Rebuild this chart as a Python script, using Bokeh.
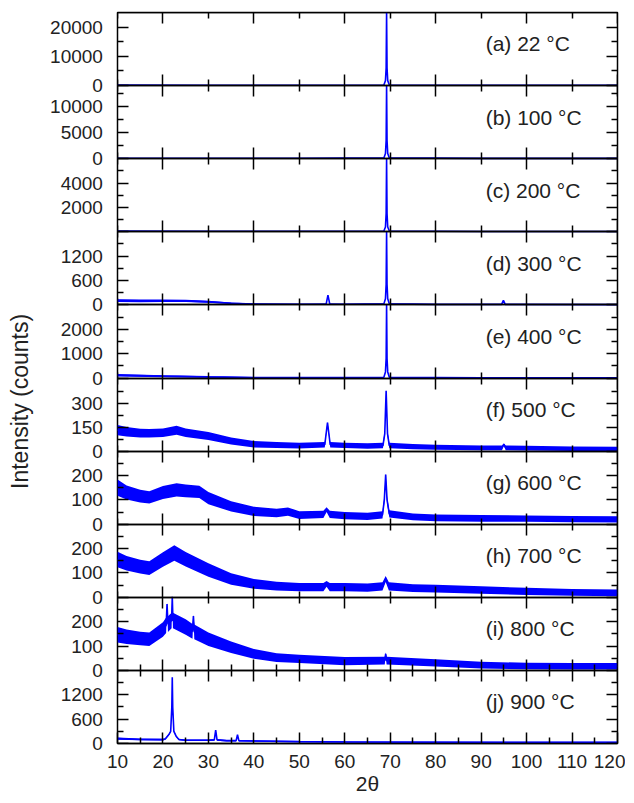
import numpy as np
from bokeh.plotting import figure
from bokeh.layouts import row
from bokeh.models import Range1d, LinearAxis, FixedTicker, Label
from bokeh.core.properties import value
from bokeh.embed import file_html
from bokeh.resources import INLINE

# ---------------- data ----------------
panel_names = ["a", "b", "c", "d", "e", "f", "g", "h", "i", "j"]
panel_labels = ["(a) 22 °C", "(b) 100 °C", "(c) 200 °C", "(d) 300 °C", "(e) 400 °C",
                "(f) 500 °C", "(g) 600 °C", "(h) 700 °C", "(i) 800 °C", "(j) 900 °C"]
panel_tops = [25000, 14000, 6000, 1800, 3000, 460, 300, 300, 300, 1800]

y_major = [[0, 10000, 20000], [0, 5000, 10000], [0, 2000, 4000], [0, 600, 1200], [0, 1000, 2000],
           [0, 150, 300], [0, 100, 200], [0, 100, 200], [0, 100, 200], [0, 600, 1200]]
y_minor = [[5000, 15000], [2500, 7500, 12500], [1000, 3000, 5000], [300, 900, 1500], [500, 1500, 2500],
           [75, 225, 375], [50, 150, 250], [50, 150, 250], [50, 150, 250], [300, 900, 1500]]
y_labelled = [[0, 10000, 20000], [0, 5000, 10000], [2000, 4000], [0, 600, 1200], [0, 1000, 2000],
              [0, 150, 300], [0, 100, 200], [0, 100, 200], [0, 100, 200], [0, 600, 1200]]

x_major_fine = [10, 20, 30, 40, 50, 60, 70, 80, 90, 100, 110, 120]
x_minor_fine = [15, 25, 35, 45, 55, 65, 75, 85, 95, 105, 115]
x_major_coarse = [20, 40, 60, 80, 100, 120]
x_minor_coarse = [10, 30, 50, 70, 90, 110]

a_x = [10, 30, 50, 68.6, 68.95, 69.1, 69.2, 69.3, 69.45, 69.8, 90, 120]
a_y = [150, 130, 110, 200, 1700, 6000, 25000, 6000, 1700, 200, 100, 100]

b_x = [10, 30, 50, 68.6, 68.95, 69.1, 69.2, 69.3, 69.45, 69.8, 90, 120]
b_y = [100, 90, 80, 150, 1000, 3500, 14000, 3500, 1000, 150, 70, 70]

c_x = [10, 30, 50, 68.6, 68.95, 69.1, 69.2, 69.3, 69.45, 69.8, 90, 120]
c_y = [60, 50, 40, 60, 400, 1500, 6000, 1500, 400, 60, 30, 30]

d_x = [10, 15, 20, 25, 30, 35, 40, 50, 55.9, 56.3, 56.7, 60, 68.6, 68.95, 69.1, 69.2, 69.3,
       69.45, 69.8, 80, 94.5, 94.9, 95.3, 120]
d_y = [105, 100, 100, 99, 75, 40, 20, 17, 20, 240, 20, 15, 25, 150, 500, 1800, 500,
       150, 25, 12, 12, 110, 12, 8]
d_n = [35, 35, 30, 30, 25, 20, 15, 12, 12, 5, 12, 12, 12, 12, 12, 5, 12,
       12, 12, 10, 10, 5, 10, 10]

e_x = [10, 20, 30, 40, 60, 68.6, 68.95, 69.1, 69.2, 69.3, 69.45, 69.8, 90, 120]
e_y = [110, 75, 45, 22, 15, 30, 250, 800, 3000, 800, 250, 30, 12, 10]
e_n = [50, 40, 30, 20, 15, 15, 15, 15, 5, 15, 15, 15, 12, 12]

f_x = [10, 12, 15, 17, 20, 23, 25, 30, 35, 40, 45, 50, 55.6, 56.2, 56.8, 60, 65, 68.4, 68.8,
       69.1, 69.4, 69.8, 75, 80, 90, 94.6, 95.0, 95.4, 100, 110, 120]
f_y = [132, 122, 113, 112, 116, 131, 115, 95, 64, 43, 38, 34, 40, 180, 40, 36, 32, 35, 110,
       380, 110, 35, 28, 24, 20, 20, 42, 20, 18, 15, 14]
f_n = [32, 30, 28, 27, 27, 28, 27, 25, 22, 20, 19, 18, 18, 5, 18, 17, 17, 17, 17,
       5, 17, 17, 16, 16, 15, 15, 8, 15, 15, 14, 14]

g_x = [10, 12, 15, 17, 20, 23, 25, 28, 30, 35, 40, 45, 47.5, 50, 55.3, 56, 56.7, 60, 65, 68.3,
       68.7, 69.0, 69.3, 69.8, 75, 80, 90, 100, 110, 120]
g_y = [150, 130, 115, 110, 130, 141, 137, 133, 107, 73, 53, 46, 52, 37, 40, 60, 40, 35, 32, 38,
       100, 204, 100, 42, 30, 26, 24, 23, 21, 20]
g_n = [33, 29, 26, 25, 27, 27, 26, 25, 25, 21, 19, 17, 17, 16, 15, 10, 15, 15, 15, 15,
       15, 5, 15, 15, 14, 14, 14, 13, 13, 13]

h_x = [10, 12, 15, 17, 20, 22.5, 25, 30, 35, 40, 45, 50, 55.3, 56, 56.7, 60, 65, 68.3, 69.0, 69.7,
       75, 80, 90, 100, 110, 120]
h_y = [155, 140, 126, 120, 155, 182, 156, 112, 75, 55, 46, 42, 42, 55, 42, 42, 40, 45, 75, 45,
       38, 36, 30, 24, 20, 18]
h_n = [32, 30, 28, 28, 30, 32, 30, 28, 24, 20, 18, 17, 17, 12, 17, 17, 17, 17, 12, 17,
       16, 16, 15, 15, 14, 14]

i_x = [10, 12, 15, 17, 20, 20.7, 20.9, 21.1, 21.9, 22.05, 22.2, 25, 26.5, 26.7, 26.9, 30, 35, 40,
       45, 50, 60, 68.8, 69.0, 69.2, 80, 90, 100, 110, 120]
i_y = [146, 138, 131, 128, 168, 185, 272, 190, 205, 302, 205, 178, 160, 223, 158, 128, 95, 68,
       52, 47, 38, 40, 68, 40, 31, 22, 18, 17, 17]
i_n = [32, 30, 28, 28, 30, 32, 5, 32, 32, 5, 32, 32, 30, 5, 30, 28, 24, 20,
       18, 17, 17, 16, 5, 16, 15, 14, 13, 13, 13]

j_x = [10, 15, 20, 20.5, 21.3, 21.7, 21.95, 22.05, 22.15, 22.4, 22.9, 23.5, 25, 30, 31.3, 31.6,
       31.9, 34, 36.1, 36.4, 36.7, 40, 50, 60, 80, 100, 120]
j_y = [120, 100, 96, 110, 220, 300, 900, 1630, 900, 300, 180, 100, 80, 80, 90, 330,
       90, 70, 70, 216, 70, 60, 45, 38, 32, 30, 30]
j_n = [25, 22, 20, 20, 20, 20, 10, 5, 10, 20, 20, 20, 20, 20, 20, 5,
       20, 18, 18, 5, 18, 18, 16, 15, 15, 15, 15]

series = {
    "a": (a_x, a_y, None), "b": (b_x, b_y, None), "c": (c_x, c_y, None),
    "d": (d_x, d_y, d_n), "e": (e_x, e_y, e_n), "f": (f_x, f_y, f_n),
    "g": (g_x, g_y, g_n), "h": (h_x, h_y, h_n), "i": (i_x, i_y, i_n),
    "j": (j_x, j_y, j_n),
}

# ---------------- styling / layout constants ----------------
BLUE = "#0000ff"
INK = "#222222"
FONT = "Liberation Sans"
N = len(panel_names)
FRAME_W, FRAME_H = 500, 731
SLOT_PX = FRAME_H / N
TOP_BORDER = 12
LEFT_W = 104            # width of the strip holding y tick labels and title
MAIN_LEFT = 13          # border between strip and frame
EXTRA_PX = 24           # strip extends below the frame so the last "0" is not cut
MAJ_IN, MIN_IN = 11, 6
LABEL_X = 91            # data x where the panel captions start
LABEL_FRAC = 0.57       # caption height as a fraction of each panel
TICKLABEL_X = 0.985     # strip x (0..1) of the right edge of y tick labels
YTITLE_X = 0.19         # strip x (0..1) of the y title centre
YTITLE_Y = 0.468        # fraction of the frame height

# ---------------- left strip: y tick labels and y title ----------------
extra = EXTRA_PX / SLOT_PX
left = figure(frame_width=LEFT_W, frame_height=FRAME_H + EXTRA_PX,
              x_range=Range1d(0, 1), y_range=Range1d(-extra / N, 1),
              output_backend="svg", toolbar_location=None, title=None,
              min_border_left=0, min_border_right=0, min_border_top=TOP_BORDER, min_border_bottom=0)
left.axis.visible = False
left.grid.visible = False
left.outline_line_color = None

left.text(x=[YTITLE_X], y=[YTITLE_Y], text=["Intensity (counts)"], angle=np.pi / 2,
          text_font=value(FONT), text_font_size="23px", text_color=INK,
          text_align="center", text_baseline="middle")

# ---------------- main plot ----------------
p = figure(frame_width=FRAME_W, frame_height=FRAME_H, x_range=Range1d(10, 120), y_range=Range1d(0, 1),
           output_backend="svg", toolbar_location=None, title=None,
           min_border_left=MAIN_LEFT, min_border_right=8, min_border_top=TOP_BORDER, min_border_bottom=0)
p.grid.visible = False
p.outline_line_color = "black"
p.outline_line_width = 1.5
p.background_fill_color = "white"
p.border_fill_color = None


def style_ticks(ax):
    ax.major_tick_in = MAJ_IN
    ax.major_tick_out = 0
    ax.minor_tick_in = MIN_IN
    ax.minor_tick_out = 0
    ax.major_tick_line_color = "black"
    ax.minor_tick_line_color = "black"
    ax.major_tick_line_width = 1.5
    ax.minor_tick_line_width = 1.5


def hide_labels(ax, ticks):
    ax.major_label_text_font_size = "0px"
    ax.major_label_overrides = {t: "" for t in ticks}


bx = p.xaxis[0]
bx.ticker = FixedTicker(ticks=x_major_fine, minor_ticks=x_minor_fine)
style_ticks(bx)
bx.axis_line_color = "black"
bx.axis_line_width = 1.5
bx.major_label_text_font = FONT
bx.major_label_text_font_size = "19px"
bx.major_label_text_color = INK
bx.major_label_standoff = 11
bx.axis_label = "2θ"
bx.axis_label_text_font = FONT
bx.axis_label_text_font_size = "21px"
bx.axis_label_text_font_style = "normal"
bx.axis_label_text_color = INK
bx.axis_label_standoff = 1

p.yaxis[0].visible = False

for idx, name in enumerate(panel_names):
    k = N - 1 - idx  # slot index from the bottom
    top = panel_tops[idx]
    p.extra_y_ranges[name] = Range1d(start=-k * top, end=top + (N - 1 - k) * top)
    left.extra_y_ranges[name] = Range1d(start=-(k + extra) * top, end=top + (N - 1 - k) * top)

    xs, ys, ns = series[name]
    xs = np.asarray(xs, dtype=float)
    ys = np.asarray(ys, dtype=float)
    if ns is not None:
        ns = np.asarray(ns, dtype=float)
        p.varea(x=xs, y1=np.maximum(ys - ns, 0), y2=np.minimum(ys + ns, top),
                fill_color=BLUE, y_range_name=name)
    p.line(x=xs, y=ys, line_color=BLUE, line_width=1.6, y_range_name=name)

    # y tick labels in the left strip
    vals = y_labelled[idx]
    left.text(x=[TICKLABEL_X] * len(vals), y=vals, text=[str(v) for v in vals],
              y_range_name=name, text_font=value(FONT), text_font_size="19px",
              text_color=INK, text_align="right", text_baseline="middle")

    # left / right y ticks (inward)
    for loc, side in ((10, "left"), (120, "right")):
        ax = LinearAxis(y_range_name=name, fixed_location=loc, bounds=(0, top),
                        ticker=FixedTicker(ticks=y_major[idx], minor_ticks=y_minor[idx]))
        style_ticks(ax)
        ax.axis_line_color = None
        hide_labels(ax, y_major[idx])
        p.add_layout(ax, side)

    # horizontal boundaries with inward x ticks
    fine_top = name == "j"
    fine_bottom = name == "i"
    ta = LinearAxis(y_range_name=name, fixed_location=top,
                    ticker=FixedTicker(ticks=x_major_fine if fine_top else x_major_coarse,
                                       minor_ticks=x_minor_fine if fine_top else x_minor_coarse))
    style_ticks(ta)
    ta.axis_line_color = "black"
    ta.axis_line_width = 1.5
    hide_labels(ta, x_major_fine)
    p.add_layout(ta, "above")

    if name != "j":
        ba = LinearAxis(y_range_name=name, fixed_location=0,
                        ticker=FixedTicker(ticks=x_major_fine if fine_bottom else x_major_coarse,
                                           minor_ticks=x_minor_fine if fine_bottom else x_minor_coarse))
        style_ticks(ba)
        ba.axis_line_color = "black"
        ba.axis_line_width = 1.5
        hide_labels(ba, x_major_fine)
        p.add_layout(ba, "below")

    p.add_layout(Label(x=LABEL_X, y=LABEL_FRAC * top, y_range_name=name, text=panel_labels[idx],
                       text_font=FONT, text_font_size="21px", text_color=INK,
                       text_baseline="middle", text_align="left"))

layout = row(left, p)
open("out.html", "w").write(file_html(layout, INLINE))
